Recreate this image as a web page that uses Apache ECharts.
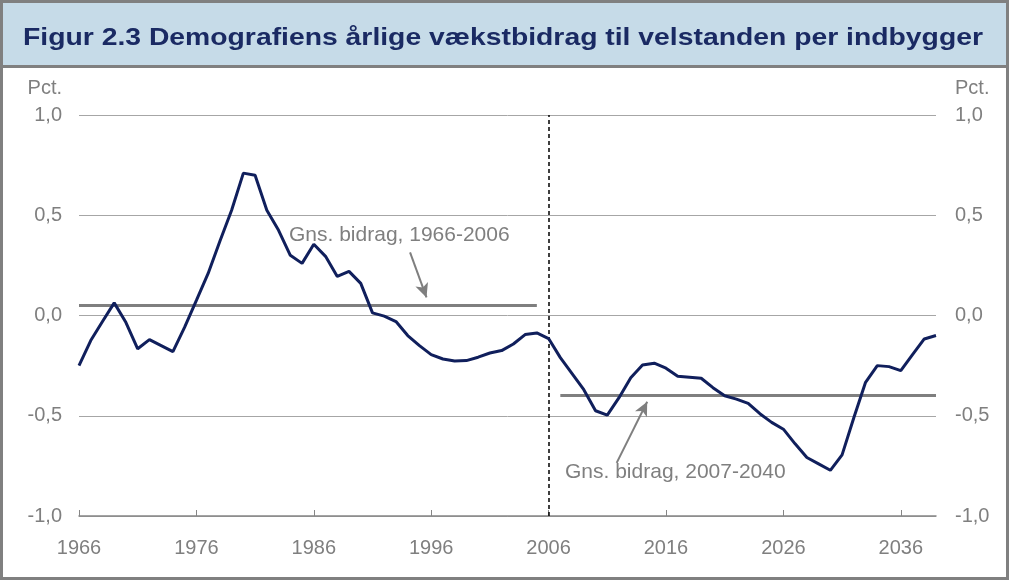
<!DOCTYPE html>
<html lang="da" style="height: 100%">
<head>
    <meta charset="utf-8"/>
    <title>Figur 2.3</title>
    <script type="text/javascript" src="https://cdn.jsdelivr.net/npm/echarts@6/dist/echarts.min.js"></script>
</head>
<body style="height: 100%; margin: 0; background: #fff">
<div id="container" style="width: 1009px; height: 580px"></div>
<script type="text/javascript">
    // data
    var firstYear = 1966;
    var values = [
        -0.25, -0.125, -0.03, 0.063, -0.035, -0.166, -0.12, -0.15, -0.18, -0.058,
        0.075, 0.21, 0.37, 0.525, 0.71, 0.70, 0.525, 0.425, 0.30, 0.26,
        0.355, 0.295, 0.195, 0.22, 0.16, 0.013, -0.003, -0.03, -0.10, -0.15,
        -0.195, -0.217, -0.227, -0.225, -0.208, -0.187, -0.175, -0.142, -0.095, -0.087,
        -0.115, -0.21, -0.29, -0.37, -0.475, -0.497, -0.41, -0.31, -0.247, -0.238,
        -0.263, -0.303, -0.308, -0.313, -0.36, -0.40, -0.417, -0.438, -0.49, -0.533,
        -0.567, -0.64, -0.708, -0.74, -0.772, -0.695, -0.51, -0.333, -0.25, -0.255,
        -0.275, -0.195, -0.117, -0.10
    ];
    var years = [];
    for (var i = 0; i < values.length; i++) years.push(firstYear + i);

    var splitYear = 2006;
    var avg1 = {from: 1966, to: 2005, value: 0.05, label: 'Gns. bidrag, 1966-2006'};
    var avg2 = {from: 2007, to: 2039, value: -0.4, label: 'Gns. bidrag, 2007-2040'};
    var yTicks = [-1, -0.5, 0, 0.5, 1];

    var titleText = 'Figur 2.3 Demografiens årlige vækstbidrag til velstanden per indbygger';

    var grey = '#7f7f7f';
    var navy = '#101f5c';
    var font = 'Liberation Sans, Arial, sans-serif';

    var seriesData = years.map(function (y, i) { return [y, values[i]]; });

    function fmt(v) {
        return v.toFixed(1).replace('.', ',');
    }

    var myChart = echarts.init(document.getElementById('container'));
    var option = {
        animation: false,
        textStyle: {fontFamily: font},
        grid: {left: 79, right: 73, top: 115, bottom: 64},
        graphic: [
            {type: 'rect', shape: {x: 1.5, y: 1.5, width: 1006, height: 577},
                style: {fill: 'none', stroke: '#808080', lineWidth: 3}, z: 10},
            {type: 'rect', shape: {x: 3, y: 3, width: 1003, height: 63},
                style: {fill: '#c6dbe8'}, z: 1},
            {type: 'rect', shape: {x: 0, y: 65, width: 1009, height: 3},
                style: {fill: '#808080'}, z: 10},
            {type: 'text', x: 23, y: 38, scaleX: 1.18, z: 11,
                style: {text: titleText, fill: '#1a2a63', font: 'bold 24px ' + font,
                    verticalAlign: 'middle', textAlign: 'left'}},
            {type: 'text', x: 289, y: 235, z: 11,
                style: {text: avg1.label, fill: grey, font: '21px ' + font, verticalAlign: 'middle'}},
            {type: 'text', x: 565, y: 472, z: 11,
                style: {text: avg2.label, fill: grey, font: '21px ' + font, verticalAlign: 'middle'}}
        ],
        xAxis: {
            type: 'value',
            min: years[0],
            max: years[years.length - 1],
            interval: 10,
            axisLine: {onZero: false, lineStyle: {color: '#868686', width: 1.5}},
            axisTick: {inside: true, length: 6, lineStyle: {color: '#868686'}},
            axisLabel: {color: grey, fontSize: 20, margin: 22, showMaxLabel: false,
                formatter: function (v) { return String(v); }},
            splitLine: {show: false}
        },
        yAxis: [
            {
                type: 'value', min: yTicks[0], max: yTicks[yTicks.length - 1], interval: 0.5,
                name: 'Pct.', nameLocation: 'end', nameGap: 17,
                nameTextStyle: {color: grey, fontSize: 20, align: 'right', padding: [0, 17, 0, 0]},
                axisLine: {show: false}, axisTick: {show: false},
                axisLabel: {color: grey, fontSize: 20, margin: 17, formatter: fmt},
                splitLine: {lineStyle: {color: '#a6a6a6', width: 1}}
            },
            {
                type: 'value', min: yTicks[0], max: yTicks[yTicks.length - 1], interval: 0.5,
                position: 'right',
                name: 'Pct.', nameLocation: 'end', nameGap: 17,
                nameTextStyle: {color: grey, fontSize: 20, align: 'left', padding: [0, 0, 0, 19]},
                axisLine: {show: false}, axisTick: {show: false},
                axisLabel: {color: grey, fontSize: 20, margin: 19, formatter: fmt},
                splitLine: {show: false}
            }
        ],
        series: [
            {
                type: 'line',
                data: seriesData,
                symbol: 'none',
                z: 5,
                lineStyle: {color: navy, width: 3},
                markLine: {
                    silent: true,
                    symbol: ['none', 'none'],
                    label: {show: false},
                    animation: false,
                    data: [
                        [{coord: [avg1.from, avg1.value], lineStyle: {color: grey, width: 3, type: 'solid'}},
                            {coord: [avg1.to, avg1.value]}],
                        [{coord: [avg2.from, avg2.value], lineStyle: {color: grey, width: 3, type: 'solid'}},
                            {coord: [avg2.to, avg2.value]}],
                        {xAxis: splitYear, lineStyle: {color: '#000', width: 1.5, type: [4, 3]}}
                    ]
                }
            },
            {
                // annotation arrows
                type: 'line',
                data: [],
                markLine: {
                    silent: true,
                    symbol: ['none', 'arrow'],
                    symbolSize: [10, 14],
                    label: {show: false},
                    lineStyle: {color: grey, width: 2, type: 'solid'},
                    data: [
                        [{coord: [1994.2, 0.315]}, {coord: [1995.6, 0.09]}],
                        [{coord: [2011.8, -0.735]}, {coord: [2014.4, -0.43]}]
                    ]
                }
            }
        ]
    };
    myChart.setOption(option);
</script>
</body>
</html>
